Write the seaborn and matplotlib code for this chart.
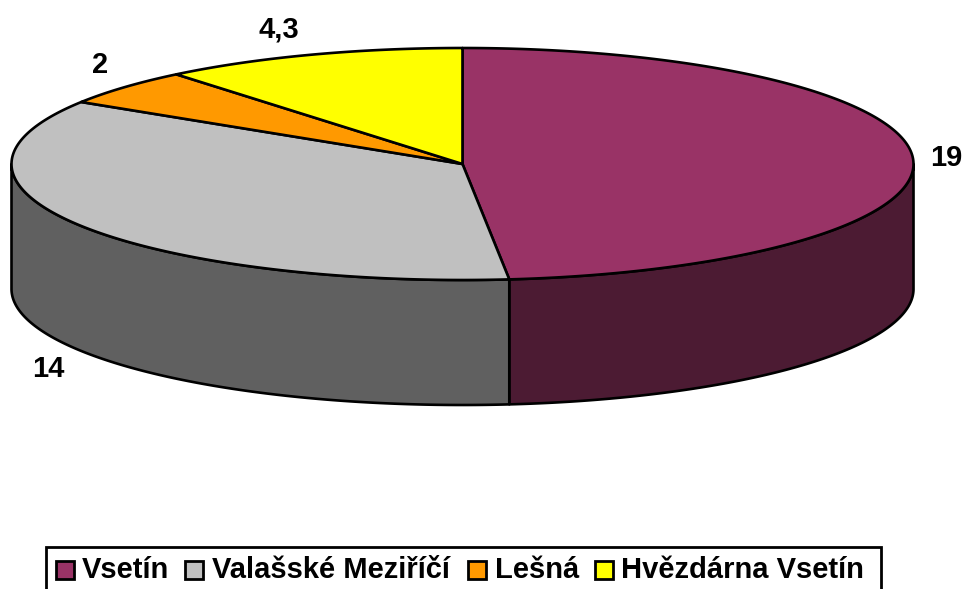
#!/usr/bin/env python
import numpy as np
import pandas as pd

import matplotlib
matplotlib.use('agg')
import matplotlib.pyplot as plt
from matplotlib.patches import Rectangle
import seaborn as sns

labels = ['Vsetín', 'Valašské Meziříčí', 'Lešná', 'Hvězdárna Vsetín']
values = [19, 14, 2, 4.3]
value_labels = ['19', '14', '2', '4,3']
top_colors = ['#993366', '#C0C0C0', '#FF9900', '#FFFF00']
side_colors = ['#4C1B33', '#606060', '#804C00', '#808000']

# ellipse of the pie top, in pixels
cx, cy = 462.5, 164
rx, ry = 451, 116
depth = 125
W, H = 964, 589

def rim(t):
    # t in radians, clockwise from the top of the ellipse
    return cx + rx * np.sin(t), cy - ry * np.cos(t)

def draw_side(ax, t0, t1, color):
    # only the front half of the rim is visible
    a = max(t0, np.pi / 2)
    b = min(t1, 3 * np.pi / 2)
    if a >= b:
        return
    t = np.linspace(a, b, 200)
    x, y = rim(t)
    xs = np.concatenate([x, x[::-1]])
    ys = np.concatenate([y, y[::-1] + depth])
    ax.fill(xs, ys, facecolor=color, edgecolor='black', linewidth=1.9, joinstyle='round')

def draw_top(ax, t0, t1, color):
    t = np.linspace(t0, t1, 300)
    x, y = rim(t)
    xs = np.concatenate([[cx], x])
    ys = np.concatenate([[cy], y])
    ax.fill(xs, ys, facecolor=color, edgecolor='black', linewidth=1.9, joinstyle='round')

def draw_legend(ax):
    ax.add_patch(Rectangle((45.5, 546.5), 835, 46, facecolor='white', edgecolor='black',
                           linewidth=2, clip_on=False))
    swatch_x = [56, 185, 468, 595]
    text_x = [82, 212, 495, 621]
    for i in range(len(labels)):
        ax.add_patch(Rectangle((swatch_x[i], 560.5), 18, 18, facecolor=top_colors[i],
                               edgecolor='black', linewidth=2))
        ax.text(text_x[i], 569.5, labels[i], fontsize=21, fontweight='bold', va='center',
                ha='left', color='black')

def main():
    sns.set_style('white')
    plt.rcParams['font.family'] = ['Liberation Sans', 'DejaVu Sans']

    data = pd.DataFrame({'label': labels, 'value': values})
    fractions = data['value'] / data['value'].sum()
    edges = np.concatenate([[0], np.cumsum(fractions)]) * 2 * np.pi

    fig = plt.figure(figsize=(W / 100, H / 100), dpi=100)
    ax = fig.add_axes([0, 0, 1, 1])
    ax.set_xlim(0, W)
    ax.set_ylim(H, 0)
    ax.axis('off')

    for i in range(len(values)):
        draw_side(ax, edges[i], edges[i + 1], side_colors[i])
    for i in range(len(values)):
        draw_top(ax, edges[i], edges[i + 1], top_colors[i])

    label_pos = [(946, 158), (48, 369), (100, 65), (279, 29)]
    for pos, text in zip(label_pos, value_labels):
        ax.text(pos[0], pos[1], text, fontsize=21, fontweight='bold', ha='center',
                va='center', color='black')

    draw_legend(ax)
    fig.savefig('out.png', dpi=100)
    plt.close(fig)

if __name__ == '__main__':
    main()
